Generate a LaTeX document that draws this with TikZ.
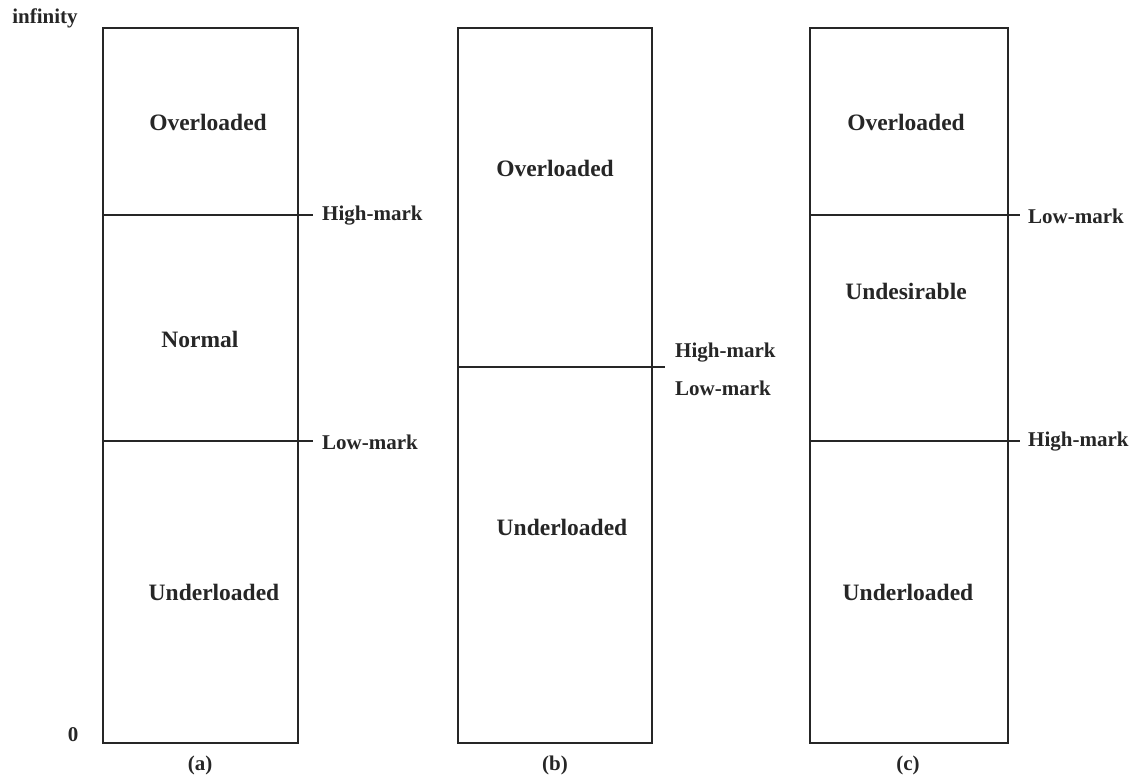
\documentclass[tikz,border=0pt]{standalone}
\usepackage{fontspec}
\setmainfont{Liberation Serif}
\begin{document}
\begin{tikzpicture}[x=1pt,y=-1pt,
  boxline/.style={draw=black!85,line width=1.7pt},
  markline/.style={draw=black!85,line width=1.3pt},
  region/.style={font=\fontsize{23.5}{26}\bfseries\selectfont,text=black!85,inner sep=0pt},
  marklabel/.style={font=\fontsize{21}{24}\bfseries\selectfont,text=black!85,anchor=west,inner sep=0pt},
  caption/.style={font=\fontsize{21}{24}\bfseries\selectfont,text=black!85,inner sep=0pt}]
\useasboundingbox (0,0) rectangle (1135,778);
% box a
\draw[boxline] (103,28) rectangle (298,743);
\coordinate (a1l) at (103,215); \coordinate (a1r) at (313,215);
\coordinate (a2l) at (103,441); \coordinate (a2r) at (313,441);
\draw[markline] (a1l) -- (a1r);
\draw[markline] (a2l) -- (a2r);
\node[region] (aover) at (208,122) {Overloaded};
\node[region] (anorm) at (200,339) {Normal};
\node[region] (aunder) at (214,592) {Underloaded};
\node[marklabel] (ahigh) at (322,216) {High-mark};
\node[marklabel] (alow) at (322,442) {Low-mark};
\node[caption] (inf) at (45,18) {infinity};
\node[caption] (zero) at (73,735) {0};
\node[caption] (capa) at (200,765) {(a)};
% box b
\draw[boxline] (458,28) rectangle (652,743);
\coordinate (b1l) at (458,367); \coordinate (b1r) at (665,367);
\draw[markline] (b1l) -- (b1r);
\node[region] (bover) at (555,168) {Overloaded};
\node[region] (bunder) at (562,527) {Underloaded};
\node[marklabel] (bhigh) at (675,353) {High-mark};
\node[marklabel] (blow) at (675,388) {Low-mark};
\node[caption] (capb) at (555,765) {(b)};
% box c
\draw[boxline] (810,28) rectangle (1008,743);
\coordinate (c1l) at (810,215); \coordinate (c1r) at (1020,215);
\coordinate (c2l) at (810,441); \coordinate (c2r) at (1020,441);
\draw[markline] (c1l) -- (c1r);
\draw[markline] (c2l) -- (c2r);
\node[region] (cover) at (906,122) {Overloaded};
\node[region] (cund) at (906,291) {Undesirable};
\node[region] (cunder) at (908,592) {Underloaded};
\node[marklabel] (clow) at (1028,216) {Low-mark};
\node[marklabel] (chigh) at (1028,442) {High-mark};
\node[caption] (capc) at (908,765) {(c)};
\end{tikzpicture}
\end{document}
